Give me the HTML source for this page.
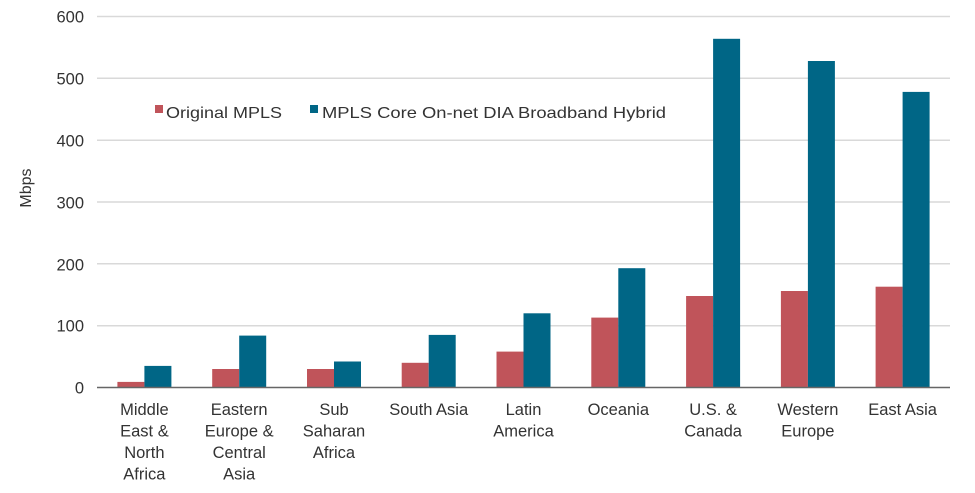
<!DOCTYPE html><html><head><style>body{margin:0;background:#fff}svg{font-family:"Liberation Sans",sans-serif;fill:#333}</style></head><body>
<svg width="975" height="488" viewBox="0 0 975 488">
<g stroke="#d9d9d9" stroke-width="1.5">
<line x1="97" x2="950" y1="16.5" y2="16.5"/><line x1="97" x2="950" y1="78.3" y2="78.3"/><line x1="97" x2="950" y1="140.2" y2="140.2"/><line x1="97" x2="950" y1="202" y2="202"/><line x1="97" x2="950" y1="263.8" y2="263.8"/><line x1="97" x2="950" y1="325.7" y2="325.7"/>
</g>
<g font-size="16.5" text-anchor="end">
<text x="84" y="22.5">600</text><text x="84" y="84.5">500</text><text x="84" y="146.5">400</text><text x="84" y="208.5">300</text><text x="84" y="270.5">200</text><text x="84" y="331.5">100</text><text x="84" y="393.5">0</text>
</g>
<text transform="translate(31,188) rotate(-90)" font-size="16" text-anchor="middle">Mbps</text>
<g fill="#c0545a">
<rect x="117.4" y="381.9" width="27" height="5.6"/>
<rect x="212.2" y="369" width="27" height="18.5"/>
<rect x="307" y="369" width="27" height="18.5"/>
<rect x="401.7" y="362.8" width="27" height="24.7"/>
<rect x="496.5" y="351.6" width="27" height="35.9"/>
<rect x="591.3" y="317.6" width="27" height="69.9"/>
<rect x="686.1" y="296" width="27" height="91.5"/>
<rect x="780.9" y="291" width="27" height="96.5"/>
<rect x="875.6" y="286.7" width="27" height="100.8"/>
</g>
<g fill="#006686">
<rect x="144.4" y="365.9" width="27" height="21.6"/>
<rect x="239.2" y="335.6" width="27" height="51.9"/>
<rect x="334" y="361.5" width="27" height="26"/>
<rect x="428.7" y="334.9" width="27" height="52.6"/>
<rect x="523.5" y="313.3" width="27" height="74.2"/>
<rect x="618.3" y="268.2" width="27" height="119.3"/>
<rect x="713.1" y="38.8" width="27" height="348.7"/>
<rect x="807.9" y="61" width="27" height="326.5"/>
<rect x="902.6" y="91.9" width="27" height="295.6"/>
</g>
<line x1="97" x2="950" y1="387.5" y2="387.5" stroke="#666" stroke-width="1.5"/>
<rect x="155" y="105" width="8" height="8" fill="#c0545a"/><text x="166" y="118" font-size="16" textLength="116" lengthAdjust="spacingAndGlyphs">Original MPLS</text>
<rect x="310" y="105" width="8" height="8" fill="#006686"/><text x="322" y="118" font-size="16" textLength="344" lengthAdjust="spacingAndGlyphs">MPLS Core On-net DIA Broadband Hybrid</text>
<g font-size="16.5" text-anchor="middle">
<text x="144.4" y="415">Middle</text><text x="144.4" y="436.5">East &amp;</text><text x="144.4" y="458">North</text><text x="144.4" y="479.5">Africa</text>
<text x="239.2" y="415">Eastern</text><text x="239.2" y="436.5">Europe &amp;</text><text x="239.2" y="458">Central</text><text x="239.2" y="479.5">Asia</text>
<text x="334" y="415">Sub</text><text x="334" y="436.5">Saharan</text><text x="334" y="458">Africa</text>
<text x="428.7" y="415">South Asia</text>
<text x="523.5" y="415">Latin</text><text x="523.5" y="436.5">America</text>
<text x="618.3" y="415">Oceania</text>
<text x="713.1" y="415">U.S. &amp;</text><text x="713.1" y="436.5">Canada</text>
<text x="807.9" y="415">Western</text><text x="807.9" y="436.5">Europe</text>
<text x="902.6" y="415">East Asia</text>
</g>
</svg></body></html>
